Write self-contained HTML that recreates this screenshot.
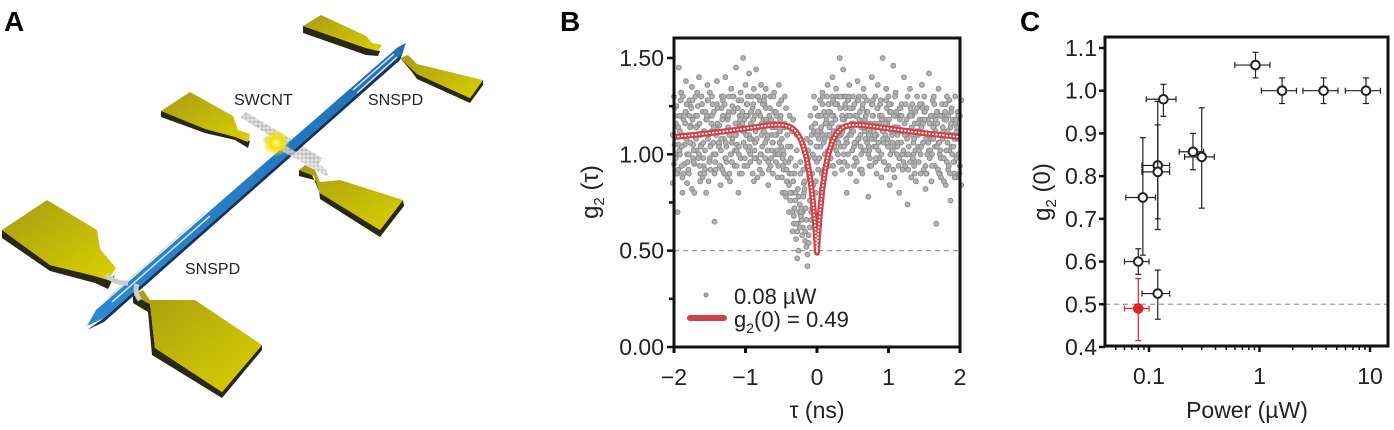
<!DOCTYPE html>
<html><head><meta charset="utf-8">
<style>
body{margin:0;background:#fff;}
svg{display:block;font-family:"Liberation Sans","DejaVu Sans",sans-serif;}
</style></head>
<body>
<svg id="fig" width="1394" height="430" viewBox="0 0 1394 430" xmlns="http://www.w3.org/2000/svg">
<defs>
<linearGradient id="gold" x1="0" y1="0" x2="1" y2="1"><stop offset="0" stop-color="#a89c12"/><stop offset="1" stop-color="#d9d000"/></linearGradient>
<linearGradient id="blue" x1="0" y1="1" x2="1" y2="0"><stop offset="0" stop-color="#2a8ad0"/><stop offset="1" stop-color="#1f6fb8"/></linearGradient>
<radialGradient id="glow"><stop offset="0" stop-color="#fff8a0"/><stop offset="0.4" stop-color="#f2e000"/><stop offset="1" stop-color="#f2e000" stop-opacity="0"/></radialGradient>
<pattern id="mesh" width="4" height="4" patternUnits="userSpaceOnUse"><rect width="4" height="4" fill="#e4e4e4"/><circle cx="2" cy="2" r="1.1" fill="none" stroke="#999" stroke-width="0.6"/></pattern>
</defs>

<!-- Panel A -->
<g>
<text x="4" y="31" font-size="28" font-weight="bold">A</text>
<g>
<polygon points="303,26 303,33 366,55 378,56 380,51 366,48" fill="#2a2810"/>
<polygon points="303,26 321,15 366,36 372,43 382,45 378,51 366,48" fill="url(#gold)"/>
</g>
<g>
<polygon points="400,58 412,72 417,79 470,103 483,85 483,80 470,98 417,74" fill="#2a2810"/>
<polygon points="400,58 408,55 417,64 483,80 470,98 417,74" fill="url(#gold)"/>
</g>
<g>
<polygon points="161,111 161,117 205,133 235,140 248,148 250,141" fill="#2a2810"/>
<polygon points="161,111 190,92 233,116 238,130 250,134 248,142 235,137 205,129" fill="url(#gold)"/>
</g>
<g>
<polygon points="299,170 299,176 318,181 320,199 380,237 404,206 403,200 380,230 320,193 312,175" fill="#2a2810"/>
<polygon points="299,170 305,165 315,170 320,182 340,180 403,200 380,230 320,193 314,176" fill="url(#gold)"/>
</g>
<g>
<polygon points="2,230 2,238 50,271 95,283 108,289 115,275 108,280 95,276 50,265" fill="#2a2810"/>
<polygon points="2,230 47,200 97,230 100,249 116,268 108,280 95,276 50,265" fill="url(#gold)"/>
</g>
<g>
<polygon points="133,295 133,303 148,312 152,355 222,398 262,350 262,345 222,392 155,348 150,304" fill="#2a2810"/>
<polygon points="133,295 143,290 150,300 195,300 262,345 222,392 155,348 150,304" fill="url(#gold)"/>
</g>
<polygon points="240,117 246,112 322,158 318,166" fill="url(#mesh)"/>
<g>
<polygon points="87,330 104,318 400,56 406,43 400,60 104,322" fill="#16335a"/>
<polygon points="87,326 96,310 398,47 406,43 400,56 104,318" fill="url(#blue)"/>
</g>
<path d="M108,298 L206,212 M112,302 L210,216" stroke="#ddd" stroke-width="1.5" fill="none"/>
<path d="M353,90 L394,54 M357,93 L397,57" stroke="#ddd" stroke-width="1.5" fill="none"/>
<path d="M106,275 Q116,284 128,283 M137,284 Q134,292 140,300" stroke="#ccc" stroke-width="5" fill="none"/>
<polygon points="262,140 330,178 325,168 268,136" fill="url(#mesh)" opacity="0.8"/>
<circle cx="276" cy="143" r="14" fill="url(#glow)"/>
<text x="234" y="105" font-size="16" fill="#222">SWCNT</text>
<text x="368" y="105" font-size="16" fill="#222">SNSPD</text>
<text x="185" y="274" font-size="16" fill="#222">SNSPD</text>
</g>

<!-- Panel B -->
<g id="panelB">
<text x="560" y="31" font-size="28" font-weight="bold">B</text>
<g id="bDots"></g>
<g id="bFit"></g>
<g id="bAxes"></g>
<text transform="translate(598,192) rotate(-90)" text-anchor="middle" font-size="24" fill="#222">g<tspan font-size="15" dy="6">2</tspan><tspan dy="-6"> (τ)</tspan></text>
<text x="817" y="418" text-anchor="middle" font-size="23" fill="#222">τ (ns)</text>
<g>
<circle cx="706" cy="295" r="2" fill="#aaa" stroke="#888"/>
<text x="734" y="304" font-size="22" fill="#222">0.08 µW</text>
<line x1="690" y1="318" x2="724" y2="318" stroke="#d0424a" stroke-width="6" stroke-linecap="round"/>
<text x="734" y="327" font-size="22" fill="#222">g<tspan font-size="14" dy="6">2</tspan><tspan dy="-6">(0) = 0.49</tspan></text>
</g>
</g>

<!-- Panel C -->
<g id="panelC">
<text x="1020" y="31" font-size="28" font-weight="bold">C</text>
<g id="cMarks"></g>
<g id="cAxes"></g>
<text transform="translate(1050,192) rotate(-90)" text-anchor="middle" font-size="24" fill="#222">g<tspan font-size="15" dy="6">2</tspan><tspan dy="-6"> (0)</tspan></text>
<text x="1247" y="418" text-anchor="middle" font-size="23" fill="#222">Power (µW)</text>
</g>
</svg>

<script>
// ---------- Panel B data ----------
const bTauStart = -2;
const bTauStep = 0.05;
const bColumns = [
[1.1,0.95,1.2,0.85,1.3,1.0],[1.25,0.9,1.05,1.15,0.7,1.45],[1.0,1.2,0.88,1.12,1.32,0.8],[1.18,0.95,1.22,0.9,1.05,1.38],
[0.85,1.1,1.28,1.0,0.92,1.2],[1.15,0.82,1.05,1.25,1.35,0.98],[0.95,1.2,1.1,0.8,1.3,1.02],[1.25,1.0,0.9,1.15,1.4,0.86],
[1.05,1.22,0.94,1.3,0.88,1.12],[0.92,1.18,1.28,1.02,0.8,1.36],[1.1,0.98,1.2,0.86,1.32,1.05],[1.2,1.06,0.9,1.3,1.0,0.65],
[1.0,1.26,1.12,0.92,1.38,1.15],[1.15,0.94,1.24,1.05,0.84,1.3],[1.28,1.08,0.98,1.2,0.9,1.4],[0.96,1.18,1.3,1.04,0.88,1.22],
[1.12,1.0,1.25,0.86,1.34,1.08],[1.22,0.94,1.1,1.3,1.02,1.45],[1.05,1.28,0.9,1.16,0.8,1.2],[0.98,1.2,1.12,1.32,0.9,1.5],
[1.18,1.04,1.26,0.94,1.36,1.1],[1.3,1.1,0.96,1.2,1.42,1.0],[1.08,1.24,0.86,1.14,0.9,1.34],[1.2,0.98,1.3,1.06,1.44,0.88],
[1.14,1.28,1.0,1.22,0.92,1.36],[1.04,1.18,1.3,0.9,1.12,1.26],[1.24,1.08,0.96,1.34,1.16,0.84],[1.16,1.3,1.02,1.2,0.94,1.1],
[1.06,1.22,1.14,0.9,1.32,1.0],[1.2,1.0,1.26,1.1,0.88,1.36],[1.12,1.28,0.98,1.18,1.04,0.8],[1.0,1.16,1.24,0.92,1.3,0.78],
[1.1,0.96,1.2,0.86,1.14,0.9],[0.98,1.12,0.86,1.04,0.8,1.18],[0.9,0.8,1.02,0.72,0.94,1.1],[0.82,0.7,0.9,0.64,0.78,0.96],
[0.72,0.62,0.8,0.66,0.7,0.85],[0.6,0.52,0.48,0.55,0.66,0.42],[0.58,0.62,0.7,0.54,0.76,0.66],[0.72,0.8,0.66,0.9,0.84,0.98],
[0.86,0.96,1.04,0.8,1.1,0.92],[0.98,1.12,0.9,1.2,1.04,0.82],[1.1,1.22,1.0,1.3,0.92,1.16],[1.18,1.02,1.26,1.1,1.36,0.94],
[1.22,1.08,1.3,0.98,1.16,1.4],[1.12,1.26,1.02,1.2,0.9,1.34],[1.26,1.14,0.96,1.3,1.06,1.5],[1.04,1.2,1.3,1.1,0.92,1.44],
[1.18,1.3,1.06,0.96,1.24,0.8],[1.28,1.1,1.2,1.0,1.36,0.9],[1.12,1.24,0.94,1.16,1.3,1.04],[1.2,1.06,1.28,0.98,0.86,1.38],
[1.08,1.22,1.14,1.3,0.92,1.0],[1.24,1.02,1.18,0.9,1.34,1.12],[1.14,1.28,1.0,1.2,1.06,0.78],[1.02,1.16,1.26,0.94,1.12,1.4],
[1.2,1.08,0.96,1.28,1.04,1.3],[1.1,1.24,1.16,0.9,1.36,0.98],[1.26,1.0,1.12,1.2,0.88,1.5],[1.06,1.18,1.28,0.96,1.14,1.34],
[1.16,0.94,1.22,1.08,1.3,0.84],[1.22,1.1,0.92,1.26,1.02,1.46],[1.04,1.2,1.12,0.88,1.32,1.0],[1.14,0.98,1.24,1.06,0.8,1.2],
[1.26,1.12,1.0,1.2,0.92,1.4],[1.0,1.18,1.3,0.94,1.1,0.74],[1.12,0.96,1.22,1.04,1.34,0.88],[1.2,1.06,0.9,1.26,1.0,1.16],
[0.96,1.24,1.1,0.86,1.3,1.04],[1.18,1.0,1.26,1.12,0.9,1.36],[1.06,1.22,0.94,1.16,1.3,0.82],[1.24,1.1,1.02,0.9,1.18,1.42],
[1.02,1.16,1.28,1.08,0.86,1.2],[1.14,0.94,1.2,1.3,1.04,0.64],[1.22,1.06,0.9,1.16,1.34,1.0],[0.98,1.2,1.1,0.88,1.26,1.12],
[1.1,1.26,0.96,1.18,0.84,1.3],[1.2,1.02,1.14,0.92,1.28,0.76],[1.04,1.18,0.9,1.24,1.1,0.96],[1.16,0.88,1.08,1.3,0.98,1.22],
[1.08,1.2,0.84,1.12,0.94,1.28]
];
// second interleaved set of columns (offset by half a step)
const bColumns2 = [
[1.05,1.16,0.9,1.24,0.98],[1.14,1.02,1.28,0.92,1.2],[0.94,1.1,1.2,1.04,1.3],[1.22,1.08,0.96,1.16,1.26],
[1.0,1.14,1.24,0.9,1.06],[1.18,0.96,1.1,1.28,1.02],[1.08,1.2,0.98,1.14,1.32],[1.16,1.04,1.26,0.94,1.1],
[0.98,1.12,1.22,1.06,0.9],[1.2,1.08,0.96,1.18,1.28],[1.04,1.16,1.26,0.92,1.12],[1.14,1.0,1.1,1.22,0.96],
[1.24,1.06,0.94,1.16,1.04],[1.02,1.18,1.3,1.08,0.92],[1.12,0.98,1.2,1.26,1.06],[1.2,1.1,1.0,1.14,0.9],
[1.06,1.22,1.12,0.96,1.3],[1.16,1.02,1.24,1.1,0.94],[1.0,1.14,1.28,1.04,1.18],[1.22,1.06,0.98,1.16,1.12],
[1.1,1.26,1.02,1.2,0.94],[1.04,1.16,1.3,1.08,1.22],[1.18,1.02,1.12,1.26,0.98],[1.08,1.22,0.96,1.14,1.3],
[1.2,1.1,1.26,1.0,1.16],[1.12,0.98,1.18,1.28,1.06],[1.02,1.16,1.24,1.1,0.92],[1.18,1.06,1.3,0.98,1.14],
[1.1,1.22,1.02,1.16,0.96],[1.0,1.12,1.2,0.94,1.06],[1.08,0.94,1.14,0.88,1.02],[0.96,0.86,1.04,0.8,0.92],
[0.84,0.76,0.9,0.7,0.8],[0.7,0.64,0.76,0.6,0.68],[0.56,0.6,0.5,0.64,0.46],[0.62,0.68,0.58,0.74,0.7],
[0.78,0.86,0.72,0.92,0.82],[0.94,1.02,0.88,1.08,0.98],[1.06,1.14,1.0,1.2,1.1],[1.12,1.24,1.04,1.3,1.16],
[1.2,1.08,1.28,1.12,0.98],[1.14,1.26,1.06,1.2,1.32],[1.08,1.2,1.3,1.0,1.16],[1.22,1.1,0.98,1.26,1.14],
[1.16,1.28,1.04,1.2,0.94],[1.26,1.12,1.0,1.18,1.08],[1.1,1.24,1.14,0.96,1.3],[1.18,1.04,1.26,1.12,1.0],
[1.06,1.2,1.3,1.08,0.94],[1.24,1.14,1.02,1.2,1.1],[1.12,1.26,0.98,1.16,1.06],[1.2,1.08,1.18,0.96,1.28],
[1.04,1.16,1.26,1.1,0.92],[1.14,1.02,1.22,1.3,1.08],[1.22,1.1,0.98,1.16,1.04],[1.08,1.2,1.12,0.94,1.26],
[1.16,1.04,1.24,1.1,0.98],[1.02,1.14,1.28,1.06,1.2],[1.2,1.08,0.96,1.18,1.12],[1.1,1.24,1.04,1.16,0.92],
[1.18,1.0,1.12,1.26,1.06],[1.06,1.2,1.3,1.02,1.14],[1.14,1.04,0.94,1.22,1.1],[1.24,1.12,1.0,1.18,1.06],
[1.02,1.16,1.26,0.96,1.1],[1.12,1.0,1.2,1.08,0.92],[1.2,1.1,0.98,1.24,1.14],[1.08,1.22,1.12,0.94,1.02],
[1.16,1.02,1.26,1.1,0.96],[1.04,1.18,0.92,1.14,1.24],[1.22,1.08,1.0,1.18,0.9],[1.1,0.98,1.2,1.06,1.16],
[1.0,1.14,1.26,0.94,1.08],[1.18,1.04,0.92,1.12,1.22],[1.06,1.2,1.1,0.9,1.02],[1.14,0.98,1.22,1.08,0.86],
[1.02,1.12,0.94,1.18,1.06],[1.1,1.22,1.0,0.9,1.16],[0.96,1.08,1.18,1.04,0.88],[1.12,1.0,0.9,1.14,1.2]
];
const bYTicks = [0, 0.5, 1.0, 1.5];
const bYTickLabels = ["0.00","0.50","1.00","1.50"];
const bYMinorTicks = [0.25, 0.75, 1.25];
const bXTicks = [-2,-1,0,1,2];
const bXTickLabels = ["\u22122","\u22121","0","1","2"];
const bFitG0 = 0.49;
const bRefLine = 0.5;

// ---------- Panel C data ----------
const cPower = [0.08, 0.08, 0.088, 0.12, 0.12, 0.135, 0.12, 0.25, 0.3, 0.92, 1.6, 3.8, 9.2];
const cG2 = [0.49, 0.60, 0.75, 0.825, 0.81, 0.98, 0.525, 0.857, 0.845, 1.06, 1.0, 1.0, 1.0];
const cG2Low = [0.415, 0.57, 0.615, 0.675, 0.70, 0.94, 0.465, 0.815, 0.725, 1.03, 0.97, 0.97, 0.97];
const cG2High = [0.56, 0.63, 0.89, 0.975, 0.92, 1.015, 0.58, 0.90, 0.96, 1.09, 1.03, 1.03, 1.03];
const cPowerRelErr = [0.25, 0.25, 0.3, 0.28, 0.28, 0.3, 0.28, 0.25, 0.3, 0.35, 0.35, 0.35, 0.35];
const cHighlight = [true, false, false, false, false, false, false, false, false, false, false, false, false];
const cYTicks = [0.4,0.5,0.6,0.7,0.8,0.9,1.0,1.1];
const cYTickLabels = ["0.4","0.5","0.6","0.7","0.8","0.9","1.0","1.1"];
const cXTicks = [0.1, 1, 10];
const cXTickLabels = ["0.1","1","10"];
const cRefLine = 0.5;

const NS = "http://www.w3.org/2000/svg";
function mk(tag, attrs, parent){ const e=document.createElementNS(NS,tag); for(const k in attrs) e.setAttribute(k,attrs[k]); parent.appendChild(e); return e; }

// ---- Panel B scales ----
const bL=674, bR=960, bT=38, bB=347;
const bx = t => 817 + t*71.5;
const by = v => 347 - v*192.7;

const bDots = document.getElementById('bDots');
function drawCols(cols, offset){
  cols.forEach((col,i)=>{
    const t = bTauStart + offset + i*bTauStep;
    if (t > 2.0001) return;
    col.forEach((v,j)=>{
      const gy = by(v);
      if (gy < bT+3) return;
      const c = mk('circle',{cx:(bx(t)+(j%3-1)*1.2).toFixed(1),cy:gy.toFixed(1),r:2.4,fill:'#b4b4b4',stroke:'#8c8c8c','stroke-width':1},bDots);
      
      
    });
  });
}
drawCols(bColumns, 0);
drawCols(bColumns2, bTauStep/2);
const bref = mk('line',{x1:bL,x2:bR,y1:by(bRefLine),y2:by(bRefLine),stroke:'#999','stroke-width':1.2,'stroke-dasharray':'5,4'},bDots);



function fit(t){ const a=Math.abs(t); return 1 + 0.2*Math.exp(-a/2.5) - (1.2-bFitG0)*Math.exp(-a/0.12); }
let d='';
for(let t=-2;t<=2.0001;t+=0.01){ d += (d?'L':'M') + bx(t).toFixed(1)+','+by(fit(t)).toFixed(1); }
const bFit = document.getElementById('bFit');
const f1 = mk('path',{d:d,fill:'none',stroke:'#d0424a','stroke-width':6,'stroke-linejoin':'round'},bFit);


mk('path',{d:d,fill:'none',stroke:'#fff','stroke-width':1.6,'stroke-dasharray':'2,1.5'},bFit);

const bAx = document.getElementById('bAxes');
const bf = mk('rect',{x:bL,y:bT,width:bR-bL,height:bB-bT,fill:'none',stroke:'#111','stroke-width':3},bAx);


bYTicks.forEach((v,i)=>{
  mk('line',{x1:bL-7,x2:bL,y1:by(v),y2:by(v),stroke:'#111','stroke-width':2.5},bAx);
  const tx = mk('text',{x:bL-10,y:by(v)+8,'text-anchor':'end','font-size':23,fill:'#222'},bAx);
  tx.textContent = bYTickLabels[i];
  
  
});
bYMinorTicks.forEach(v=>{ mk('line',{x1:bL-5,x2:bL,y1:by(v),y2:by(v),stroke:'#111','stroke-width':2.5},bAx); });
bXTicks.forEach((v,i)=>{
  mk('line',{x1:bx(v),x2:bx(v),y1:bB,y2:bB+6,stroke:'#111','stroke-width':3},bAx);
  const tx = mk('text',{x:bx(v),y:bB+38,'text-anchor':'middle','font-size':23,fill:'#222'},bAx);
  tx.textContent = bXTickLabels[i];
  
  
});

// ---- Panel C scales ----
const cL=1105, cR=1388, cT=37, cB=346;
const cx = p => 1149 + (Math.log10(p)+1)*110.5;
const cy = v => 48 + (1.1-v)*427.1;
const cM = document.getElementById('cMarks');
const cref = mk('line',{x1:cL,x2:cR,y1:cy(cRefLine),y2:cy(cRefLine),stroke:'#999','stroke-width':1.2,'stroke-dasharray':'5,4'},cM);


cPower.forEach((p,i)=>{
  const col = cHighlight[i] ? '#e0202a' : '#222';
  const g = mk('g',{},cM);
  
  
  const x=cx(p), y=cy(cG2[i]);
  const xl=cx(p*(1-cPowerRelErr[i])), xh=cx(p*(1+cPowerRelErr[i]));
  const yl=cy(cG2Low[i]), yh=cy(cG2High[i]);
  mk('line',{x1:x,x2:x,y1:yl,y2:yh,stroke:col,'stroke-width':1.2},g);
  mk('line',{x1:x-3,x2:x+3,y1:yl,y2:yl,stroke:col,'stroke-width':1.2},g);
  mk('line',{x1:x-3,x2:x+3,y1:yh,y2:yh,stroke:col,'stroke-width':1.2},g);
  mk('line',{x1:xl,x2:xh,y1:y,y2:y,stroke:col,'stroke-width':1.2},g);
  mk('line',{x1:xl,x2:xl,y1:y-3,y2:y+3,stroke:col,'stroke-width':1.2},g);
  mk('line',{x1:xh,x2:xh,y1:y-3,y2:y+3,stroke:col,'stroke-width':1.2},g);
  mk('circle',{cx:x,cy:y,r:4.3,fill:cHighlight[i]?'#e0202a':'#fff',stroke:col,'stroke-width':2},g);
});
const cAx = document.getElementById('cAxes');
const cf = mk('rect',{x:cL,y:cT,width:cR-cL,height:cB-cT,fill:'none',stroke:'#111','stroke-width':3},cAx);


cYTicks.forEach((v,i)=>{
  mk('line',{x1:cL-6,x2:cL,y1:cy(v),y2:cy(v),stroke:'#111','stroke-width':2.5},cAx);
  const tx = mk('text',{x:cL-8,y:cy(v)+8,'text-anchor':'end','font-size':23,fill:'#222'},cAx);
  tx.textContent = cYTickLabels[i];
  
  
});
for (let dec=-2; dec<=1; dec++){
  for (let m=1; m<=9; m++){
    const p = m*Math.pow(10,dec); const x=cx(p);
    if (x<cL+2 || x>cR-2) continue;
    mk('line',{x1:x,x2:x,y1:cB,y2:cB+(m===1?6:4),stroke:'#111','stroke-width':m===1?2.5:1.5},cAx);
  }
}
cXTicks.forEach((v,i)=>{
  const tx = mk('text',{x:cx(v),y:cB+38,'text-anchor':'middle','font-size':23,fill:'#222'},cAx);
  tx.textContent = cXTickLabels[i];
  
  
});
</script>
</body></html>
